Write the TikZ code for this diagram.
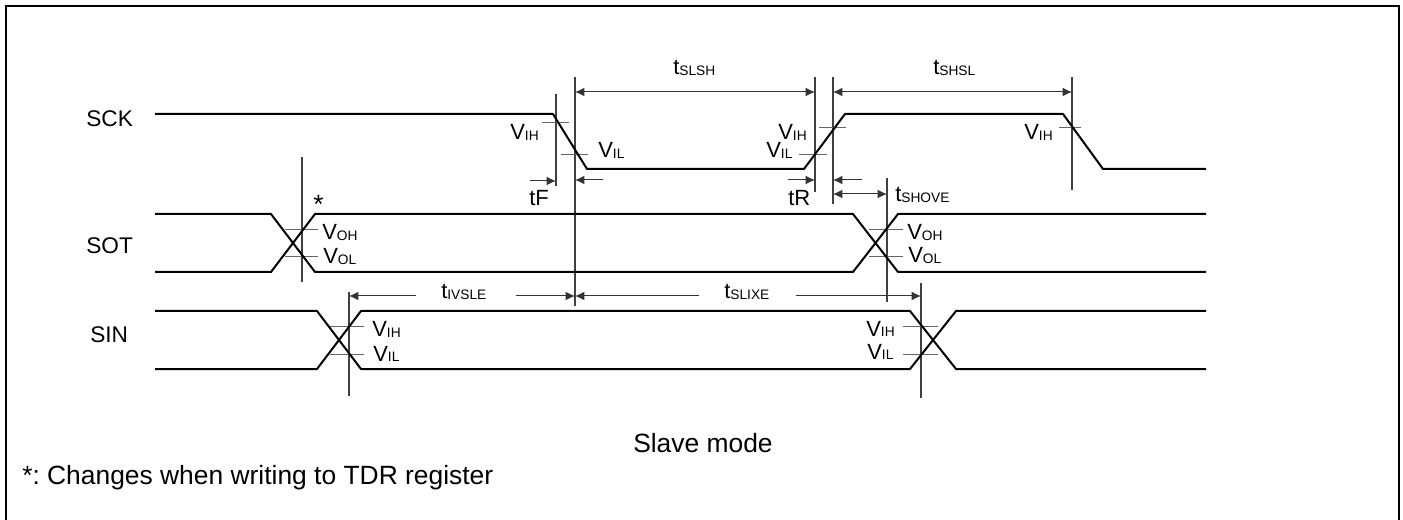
\documentclass[tikz,border=0pt]{standalone}
\usepackage{fontspec}
\setmainfont{Liberation Sans}
\usetikzlibrary{arrows.meta}
\frenchspacing
\newcommand{\lbl}[2]{#1\raisebox{-0.5pt}{\fontsize{10.3}{12}\selectfont #2}}
\tikzstyle{wave}=[line width=1.5pt, line join=round]
\tikzstyle{guide}=[line width=0.8pt, black!75]
\tikzstyle{tick}=[line width=0.75pt, black!60]
\tikzstyle{dim}=[line width=0.75pt, black!80, {Latex[length=7pt,width=6.5pt]}-{Latex[length=7pt,width=6.5pt]}]
\tikzstyle{dimto}=[line width=0.75pt, black!80, -{Latex[length=7pt,width=6.5pt]}]
\tikzstyle{txt}=[inner sep=0pt, anchor=base west, font=\fontsize{16.5}{19}\selectfont]
\tikzstyle{sig}=[inner sep=0pt, anchor=base west, font=\fontsize{17}{20}\selectfont]
\tikzstyle{captxt}=[inner sep=0pt, anchor=base west, font=\fontsize{19.8}{23}\selectfont]

\begin{document}
\begin{tikzpicture}[x=0.75pt, y=-0.75pt]
\useasboundingbox (0,0) rectangle (1403,520);

% frame
\draw[line width=1.6pt] (6,520) -- (6,6) -- (1399,6) -- (1399,520);

% guide lines
\coordinate (g1) at (556,94);   \coordinate (g1e) at (556,186);
\coordinate (g2) at (575,77);   \coordinate (g2e) at (575,306);
\coordinate (g3) at (815,77);   \coordinate (g3e) at (815,192);
\coordinate (g4) at (833,77);   \coordinate (g4e) at (833,204);
\coordinate (g5) at (1072,77);  \coordinate (g5e) at (1072,190);
\coordinate (g6) at (887,178);  \coordinate (g6e) at (887,302);
\coordinate (g7) at (302,157);  \coordinate (g7e) at (302,282);
\coordinate (g8) at (349,292);  \coordinate (g8e) at (349,396);
\coordinate (g9) at (921,283);  \coordinate (g9e) at (921,398);
\foreach \a in {g1,g2,g3,g4,g5,g6,g7,g8,g9}
  \draw[guide] (\a) -- (\a e);

% threshold ticks
\draw[tick] (542,123) -- (569,123);
\draw[tick] (561,155) -- (588,155);
\draw[tick] (819,128) -- (846,128);
\draw[tick] (799,155) -- (827,155);
\draw[tick] (1059,128) -- (1081,128);
\draw[tick] (285,230) -- (318,230);
\draw[tick] (285,257) -- (318,257);
\draw[tick] (869,230) -- (903,230);
\draw[tick] (869,257) -- (903,257);
\draw[tick] (330,327) -- (364,327);
\draw[tick] (330,354) -- (364,354);
\draw[tick] (903,327) -- (938,327);
\draw[tick] (903,354) -- (938,354);

% SCK
\draw[wave] (155,114) -- (553,114) -- (587,169) -- (804,169) -- (845,114) -- (1063,114) -- (1103,169) -- (1206,169);
% SOT
\draw[wave] (155,214) -- (271,214) -- (315,272) -- (853,272) -- (898,214) -- (1206,214);
\draw[wave] (155,272) -- (271,272) -- (315,214) -- (853,214) -- (898,272) -- (1206,272);
% SIN
\draw[wave] (155,311) -- (317,311) -- (361,369) -- (910,369) -- (956,311) -- (1206,311);
\draw[wave] (155,369) -- (317,369) -- (361,311) -- (910,311) -- (956,369) -- (1206,369);

% timing arrows
\draw[dim] (g2 |- 0,92) -- (g3 |- 0,92);
\draw[dim] (g4 |- 0,92) -- (g5 |- 0,92);
\draw[dim] (g4 |- 0,194) -- (g6 |- 0,194);
\draw[dimto] (530,181) -- (g1 |- 0,181);
\draw[dimto] (603,180) -- (g2 |- 0,180);
\draw[dimto] (788,180) -- (g3 |- 0,180);
\draw[dimto] (862,180) -- (g4 |- 0,180);
\draw[dimto] (416,296) -- (g8 |- 0,296);
\draw[dimto] (516,296) -- (g2 |- 0,296);
\draw[dimto] (699,296) -- (g2 |- 0,296);
\draw[dimto] (796,296) -- (g9 |- 0,296);

% labels
\node[sig] (sck) at (86,127) {SCK};
\node[sig] (sot) at (86,254) {SOT};
\node[sig] (sin) at (90,343) {SIN};
\node[txt] (tslsh) at (673,75) {\lbl{t}{SLSH}};
\node[txt] (tshsl) at (933,75) {\lbl{t}{SHSL}};
\node[txt] (tf) at (529,206) {tF};
\node[txt] (tr) at (788,206) {tR};
\node[txt] (tshove) at (895,202) {\lbl{t}{SHOVE}};
\node[txt] (tivsle) at (441,299) {\lbl{t}{IVSLE}};
\node[txt] (tslixe) at (724,299) {\lbl{t}{SLIXE}};
\node[txt] (vih1) at (510,140) {\lbl{V}{IH}};
\node[txt] (vil1) at (598,158) {\lbl{V}{IL}};
\node[txt] (vih2) at (778,140) {\lbl{V}{IH}};
\node[txt] (vil2) at (766,158) {\lbl{V}{IL}};
\node[txt] (vih3) at (1024,140) {\lbl{V}{IH}};
\node[txt] (voh1) at (322,240) {\lbl{V}{OH}};
\node[txt] (vol1) at (323,264) {\lbl{V}{OL}};
\node[txt] (voh2) at (907,240) {\lbl{V}{OH}};
\node[txt] (vol2) at (908,263) {\lbl{V}{OL}};
\node[txt] (vih4) at (372,337) {\lbl{V}{IH}};
\node[txt] (vil4) at (373,361) {\lbl{V}{IL}};
\node[txt] (vih5) at (866,336) {\lbl{V}{IH}};
\node[txt] (vil5) at (867,359) {\lbl{V}{IL}};
\node[captxt] (star) at (313,214) {*};
\node[captxt] (mode) at (633,452) {Slave mode};
\node[captxt] (note) at (22,484) {*: Changes when writing to TDR register};
\end{tikzpicture}
\end{document}
